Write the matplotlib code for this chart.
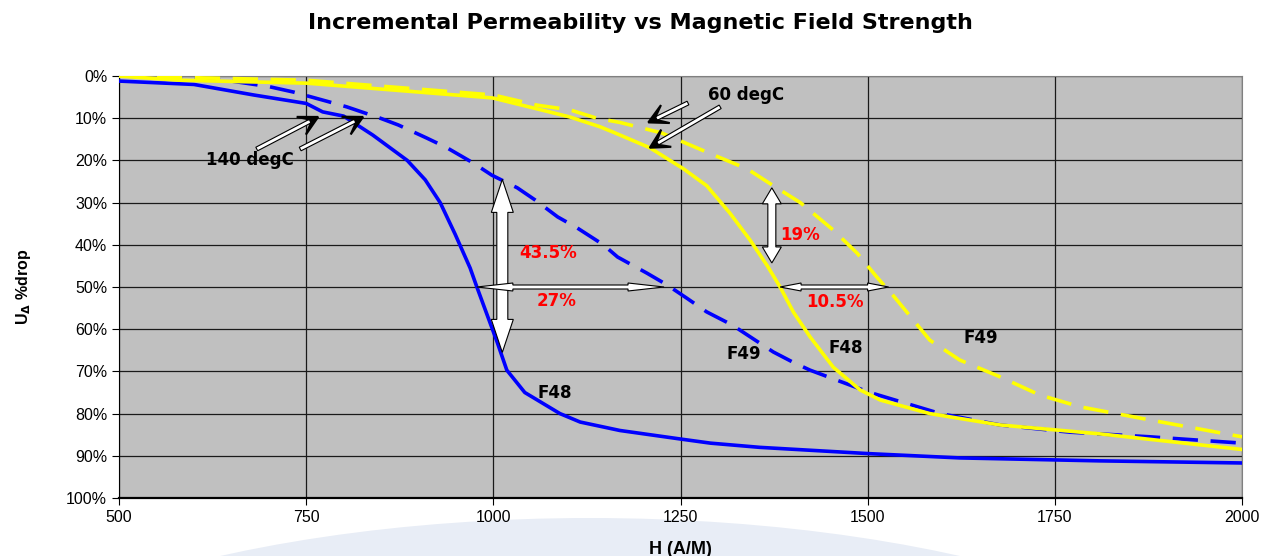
import numpy as np
import matplotlib
matplotlib.use('Agg')
import matplotlib.pyplot as plt
from matplotlib.patches import Polygon, Ellipse

plt.rcParams['font.family'] = ['Liberation Sans', 'DejaVu Sans']

# F48 @ 140 degC (blue solid)
h_f48_140 = [500, 600, 680, 750, 772, 800, 839, 885, 909, 929, 949, 969, 978, 1005, 1018,
             1042, 1089, 1116, 1169, 1249, 1290, 1356, 1503, 1623, 1810, 2000]
p_f48_140 = [1.2, 2, 4.5, 6.5, 8.5, 9.5, 14, 20, 24.6, 30, 37.5, 45.5, 50, 63, 69.7,
             75, 80, 82, 84, 86, 87, 88, 89.5, 90.5, 91.2, 91.7]

# F49 @ 140 degC (blue dashed)
h_f49_140 = [500, 600, 650, 700, 733, 778, 804, 849, 873, 911, 938, 973, 998, 1032, 1056,
             1086, 1112, 1147, 1166, 1205, 1232, 1258, 1285, 1319, 1343, 1374, 1400, 1423,
             1503, 1597, 1677, 1770, 1877, 2000]
p_f49_140 = [0, 0.3, 1.2, 2.5, 3.8, 6, 7.3, 10, 11.6, 14.7, 17, 20.6, 23.5, 26.5, 29.4,
             33.4, 36, 40, 42.9, 46.7, 49.5, 52.6, 55.9, 59, 61.8, 65.4, 67.8, 69.7,
             75, 80, 82.7, 84.4, 85.5, 87]

# F48 @ 60 degC (yellow solid)
h_f48_60 = [500, 581, 751, 999, 1102, 1142, 1160, 1209, 1254, 1285, 1316, 1343, 1366, 1383,
            1401, 1423, 1454, 1490, 1517, 1583, 1677, 1810, 2000]
p_f48_60 = [0, 1, 1.7, 5.2, 9.7, 12, 13.3, 17, 22, 26, 32.5, 38.9, 45, 50,
            56, 61.8, 69, 74.4, 76.8, 80, 82.7, 84.8, 88.5]

# F49 @ 60 degC (yellow dashed)
h_f49_60 = [500, 750, 1000, 1058, 1102, 1138, 1169, 1225, 1294, 1339, 1374, 1410, 1454, 1486,
            1512, 1534, 1583, 1623, 1677, 1730, 1784, 1877, 2000]
p_f49_60 = [0, 1, 4.5, 6.9, 8, 10, 11, 13.5, 18.7, 22, 26, 30, 36.5, 42,
            47.6, 52, 62.6, 67.3, 71.3, 75.6, 78.4, 81.5, 85.5]

x_ticks = [500, 750, 1000, 1250, 1500, 1750, 2000]
y_ticks = [0, 10, 20, 30, 40, 50, 60, 70, 80, 90, 100]

fig = plt.figure(figsize=(12.81, 5.56), dpi=100)
# faint blue arc behind the chart
fig.patches.append(Ellipse((590, -212), 1396, 500, transform=None,
                           facecolor='#e8edf6', edgecolor='none', zorder=-10))
ax = fig.add_axes([119 / 1281, 1 - 498 / 556, 1123 / 1281, 422 / 556])
ax.set_facecolor('#c0c0c0')

ax.plot(h_f48_140, p_f48_140, color='#0000ff', lw=2.6, zorder=3)
ax.plot(h_f49_140, p_f49_140, color='#0000ff', lw=2.6, dashes=(7, 3.5), zorder=3)
ax.plot(h_f48_60, p_f48_60, color='#ffff00', lw=2.6, zorder=3)
ax.plot(h_f49_60, p_f49_60, color='#ffff00', lw=2.6, dashes=(7, 3.5), zorder=3)

ax.set_xlim(500, 2000)
ax.set_ylim(100, 0)
ax.set_xticks(x_ticks)
ax.set_yticks(y_ticks)
ax.set_yticklabels([f'{v}%' for v in y_ticks])
ax.tick_params(labelsize=11.5, length=5, direction='out', color='black')
ax.grid(True, color='#1a1a1a', lw=0.9)
ax.set_axisbelow(True)
for s in ['top', 'right']:
    ax.spines[s].set_color('#808080')
ax.spines['left'].set_color('black')
ax.spines['bottom'].set_color('black')
ax.spines['bottom'].set_linewidth(1.6)

fig.text(0.5, 1 - 23 / 556, 'Incremental Permeability vs Magnetic Field Strength',
         ha='center', va='center', fontsize=16, fontweight='bold', family='DejaVu Sans')
ax.set_xlabel('H (A/M)', fontsize=13, fontweight='bold', labelpad=12)
ax.set_ylabel(r'U$_\mathbf{\Delta}$ %drop', fontsize=11.5, fontweight='bold', labelpad=24)

fig.canvas.draw()


def to_px(x, y):
    return np.array(ax.transData.transform((x, y)))


def double_arrow(x0, y0, x1, y1, sw, hw, hl, fc='white'):
    a, b = to_px(x0, y0), to_px(x1, y1)
    u = (b - a) / np.linalg.norm(b - a)
    n = np.array([-u[1], u[0]])
    pts = [a, a + hl * u + hw / 2 * n, a + hl * u + sw / 2 * n,
           b - hl * u + sw / 2 * n, b - hl * u + hw / 2 * n, b,
           b - hl * u - hw / 2 * n, b - hl * u - sw / 2 * n,
           a + hl * u - sw / 2 * n, a + hl * u - hw / 2 * n]
    fig.patches.append(Polygon(pts, closed=True, transform=None, facecolor=fc,
                               edgecolor='black', lw=0.8, zorder=5))


def pointer(x0, y0, x1, y1):
    # double-line shaft with a black head
    a, b = to_px(x0, y0), to_px(x1, y1)
    u = (b - a) / np.linalg.norm(b - a)
    n = np.array([-u[1], u[0]])
    hl, hw, sw = 19, 20, 4
    c = b - hl * u
    shaft = [a + sw / 2 * n, b - 6 * u + sw / 2 * n, b - 6 * u - sw / 2 * n, a - sw / 2 * n]
    fig.patches.append(Polygon(shaft, closed=True, transform=None, facecolor='white',
                               edgecolor='black', lw=0.8, zorder=5))
    head = [b, c + hw / 2 * n, c + 0.55 * hl * u + 1.5 * n,
            c + 0.55 * hl * u - 1.5 * n, c - hw / 2 * n]
    fig.patches.append(Polygon(head, closed=True, transform=None, facecolor='black',
                               edgecolor='black', lw=1.5, joinstyle='miter', zorder=6))


# temperature pointers
pointer(684, 17.3, 766, 9.7)
pointer(742, 17.3, 826, 9.7)
pointer(1260, 6.4, 1207, 11)
pointer(1303, 7.3, 1209, 17)

# difference arrows
double_arrow(1012, 24.5, 1012, 65.5, 11, 22, 33)
double_arrow(978, 50, 1228, 50, 4, 8, 36)
double_arrow(1372, 26.5, 1372, 44.3, 8, 19, 16)
double_arrow(1383, 50, 1528, 50, 4, 8, 21)

bold = dict(fontsize=12, fontweight='bold', ha='center', va='center',
            family='DejaVu Sans', zorder=7)
ax.text(675, 19.9, '140 degC', color='black', **bold)
ax.text(1337, 4.5, '60 degC', color='black', **bold)
ax.text(1073, 42, '43.5%', color='red', **bold)
ax.text(1084, 53.3, '27%', color='red', **bold)
ax.text(1410, 37.7, '19%', color='red', **bold)
ax.text(1456, 53.5, '10.5%', color='red', **bold)
ax.text(1082, 75.1, 'F48', color='black', **bold)
ax.text(1334, 65.9, 'F49', color='black', **bold)
ax.text(1471, 64.5, 'F48', color='black', **bold)
ax.text(1651, 62.1, 'F49', color='black', **bold)

fig.savefig('out.png', dpi=100)
